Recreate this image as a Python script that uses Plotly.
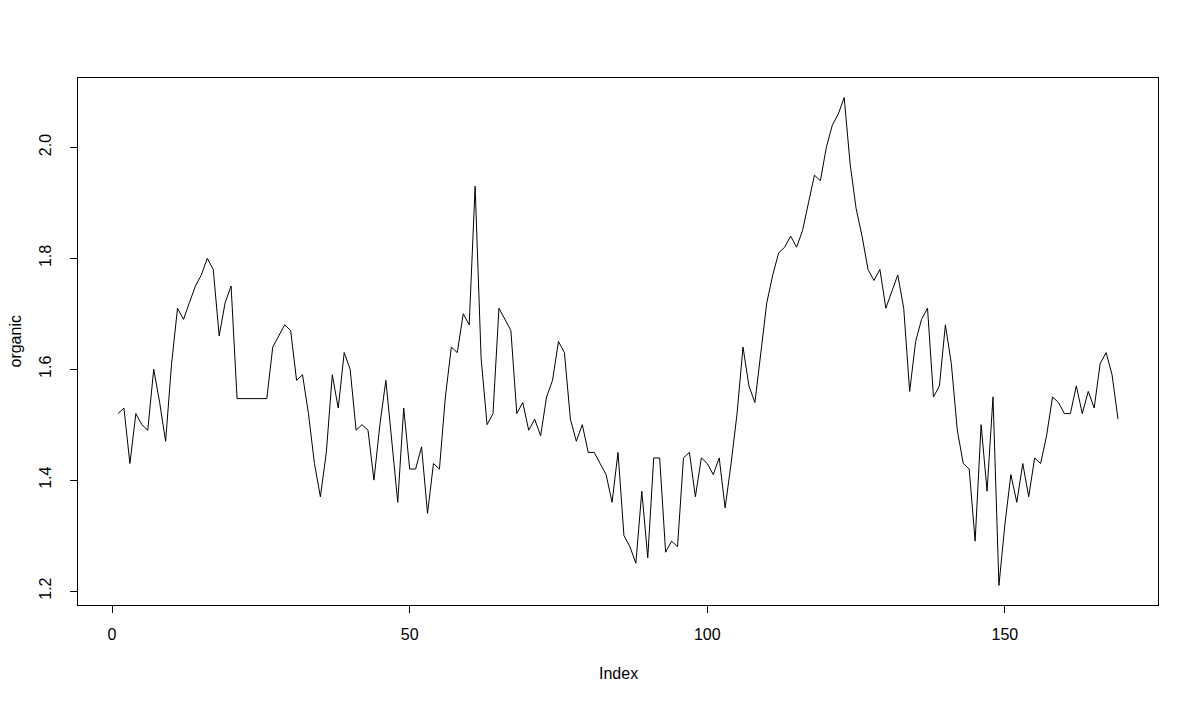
import plotly.graph_objects as go

# organic series, index 1..169
organic = [
    1.52, 1.53, 1.43, 1.52, 1.50, 1.49, 1.60, 1.54, 1.47, 1.61,
    1.71, 1.69, 1.72, 1.75, 1.77, 1.80, 1.78, 1.66, 1.72, 1.75,
    1.547, 1.547, 1.547, 1.547, 1.547, 1.547, 1.64, 1.66, 1.68, 1.67,
    1.58, 1.59, 1.52, 1.43, 1.37, 1.45, 1.59, 1.53, 1.63, 1.60,
    1.49, 1.50, 1.49, 1.40, 1.50, 1.58, 1.47, 1.36, 1.53, 1.42,
    1.42, 1.46, 1.34, 1.43, 1.42, 1.55, 1.64, 1.63, 1.70, 1.68,
    1.93, 1.62, 1.50, 1.52, 1.71, 1.69, 1.67, 1.52, 1.54, 1.49,
    1.51, 1.48, 1.55, 1.58, 1.65, 1.63, 1.51, 1.47, 1.50, 1.45,
    1.45, 1.43, 1.41, 1.36, 1.45, 1.30, 1.28, 1.25, 1.38, 1.26,
    1.44, 1.44, 1.27, 1.29, 1.28, 1.44, 1.45, 1.37, 1.44, 1.43,
    1.41, 1.44, 1.35, 1.43, 1.52, 1.64, 1.57, 1.54, 1.63, 1.72,
    1.77, 1.81, 1.82, 1.84, 1.82, 1.85, 1.90, 1.95, 1.94, 2.00,
    2.04, 2.06, 2.09, 1.97, 1.89, 1.84, 1.78, 1.76, 1.78, 1.71,
    1.74, 1.77, 1.71, 1.56, 1.65, 1.69, 1.71, 1.55, 1.57, 1.68,
    1.61, 1.49, 1.43, 1.42, 1.29, 1.50, 1.38, 1.55, 1.21, 1.32,
    1.41, 1.36, 1.43, 1.37, 1.44, 1.43, 1.48, 1.55, 1.54, 1.52,
    1.52, 1.57, 1.52, 1.56, 1.53, 1.61, 1.63, 1.59, 1.51,
]
index = list(range(1, len(organic) + 1))

x_ticks = [0, 50, 100, 150]
y_ticks = [1.2, 1.4, 1.6, 1.8, 2.0]
y_tick_labels = ["1.2", "1.4", "1.6", "1.8", "2.0"]
x_title = "Index"
y_title = "organic"

# R-style 4% axis extension
xmin, xmax = min(index), max(index)
ymin, ymax = min(organic), max(organic)
xpad = 0.04 * (xmax - xmin)
ypad = 0.04 * (ymax - ymin)

font = dict(family="Liberation Sans, Arial, sans-serif", size=16, color="black")

fig = go.Figure(
    go.Scatter(x=index, y=organic, mode="lines",
               line=dict(color="black", width=1), hoverinfo="x+y")
)

# page body has an 8px margin; size the figure so the plot box lands where the reference has it
fig.update_layout(
    width=1183, height=687,
    margin=dict(l=70, r=33, t=70, b=90, autoexpand=False),
    paper_bgcolor="white", plot_bgcolor="white",
    font=font, showlegend=False,
)
fig.update_xaxes(
    range=[xmin - xpad, xmax + xpad],
    tickmode="array", tickvals=x_ticks, ticktext=[str(v) for v in x_ticks],
    ticks="outside", ticklen=7, tickcolor="black", tickwidth=1,
    showline=True, linecolor="black", linewidth=1, mirror=True,
    showgrid=False, zeroline=False, automargin=False,
    ticklabelstandoff=8,
)
fig.update_yaxes(
    range=[ymin - ypad, ymax + ypad],
    tickmode="array", tickvals=y_ticks, ticktext=y_tick_labels,
    ticks="outside", ticklen=7, tickcolor="black", tickwidth=1,
    tickangle=-90,
    showline=True, linecolor="black", linewidth=1, mirror=True,
    showgrid=False, zeroline=False, automargin=False,
    ticklabelstandoff=13,
)
fig.add_annotation(text=x_title, xref="paper", yref="paper", x=0.5, y=0,
                   xanchor="center", yanchor="middle", yshift=-68,
                   showarrow=False, font=font)
fig.add_annotation(text=y_title, xref="paper", yref="paper", x=0, y=0.5,
                   xanchor="center", yanchor="middle", xshift=-63,
                   textangle=-90, showarrow=False, font=font)

fig.write_html("out.html")
